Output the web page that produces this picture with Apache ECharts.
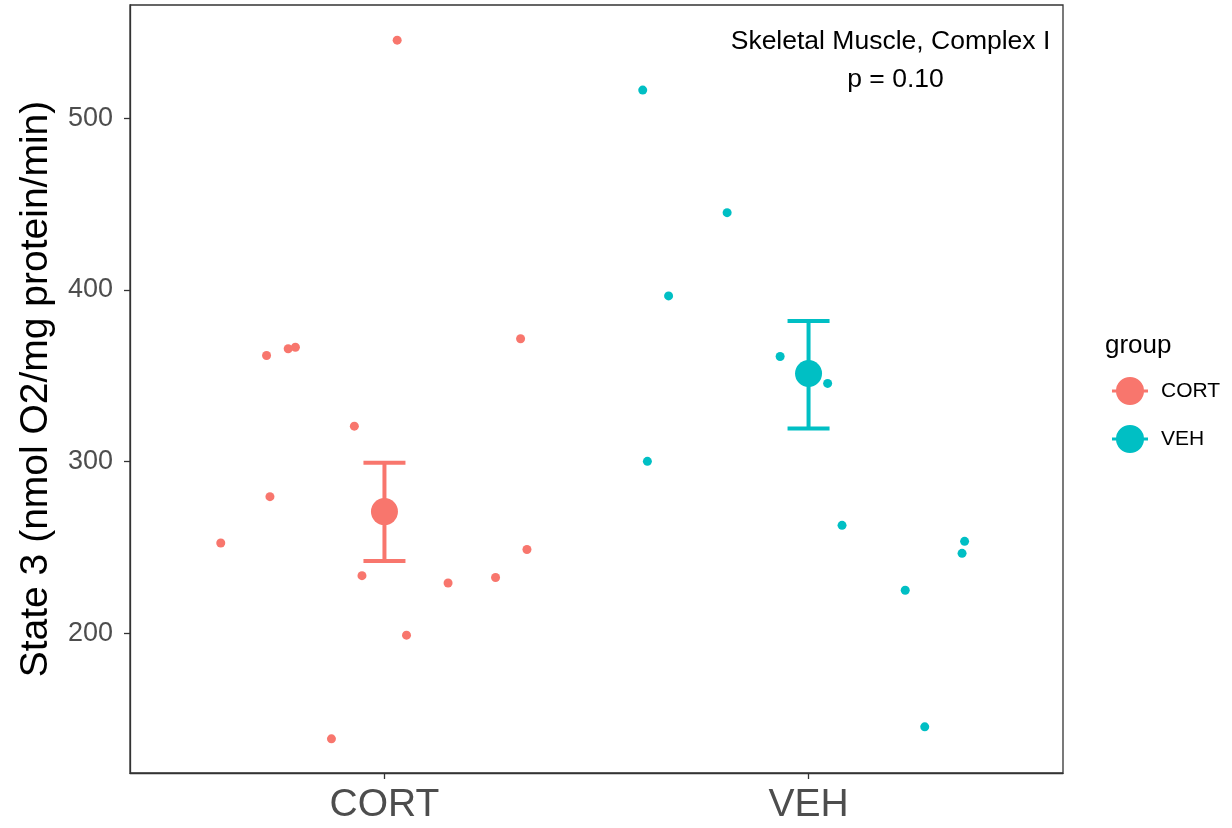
<!DOCTYPE html>
<html>
<head>
<meta charset="utf-8">
<script src="https://cdn.jsdelivr.net/npm/echarts@6/dist/echarts.min.js"></script>
<style>html,body{margin:0;padding:0;background:#fff}#c{width:1232px;height:828px}</style>
</head>
<body>
<div id="c"></div>
<script>
// ---- data ----
const categories = ['CORT', 'VEH'];
const yTicks = [200, 300, 400, 500];
// jittered positions (category index 1 = CORT, 2 = VEH) and values
const cortX = [1.030, 0.722, 0.773, 0.790, 1.321, 0.929, 0.730, 0.614, 0.947, 1.150, 1.262, 1.336, 1.052, 0.875];
const cortY = [545.5, 361.8, 365.7, 366.6, 371.5, 320.6, 279.5, 252.5, 233.5, 229.2, 232.4, 248.7, 198.8, 138.4];
const vehX = [1.609, 1.808, 1.670, 1.933, 2.045, 1.620, 2.079, 2.368, 2.362, 2.228, 2.274];
const vehY = [516.4, 445.0, 396.5, 361.2, 345.5, 300.1, 262.8, 253.5, 246.5, 225.0, 145.4];
const meanY = [270.8, 351.3];
const lowerY = [242.0, 319.3];
const upperY = [299.3, 381.9];
const annotation = ['Skeletal Muscle, Complex I', 'p = 0.10'];
const yTitle = 'State 3 (nmol O2/mg protein/min)';
const legendTitle = 'group';

const colors = ['#F8766D', '#00BFC4'];
const FONT = 'Liberation Sans, Arial, sans-serif';

const chart = echarts.init(document.getElementById('c'), null, {renderer: 'canvas'});

function errRender(params, api) {
  const x = api.value(0);
  const lo = api.coord([x, api.value(1)]);
  const hi = api.coord([x, api.value(2)]);
  const hw = 21;
  const st = {stroke: api.visual('color'), lineWidth: 4};
  return {
    type: 'group',
    children: [
      {type: 'line', shape: {x1: lo[0], y1: lo[1], x2: hi[0], y2: hi[1]}, style: st},
      {type: 'line', shape: {x1: hi[0] - hw, y1: hi[1], x2: hi[0] + hw, y2: hi[1]}, style: st},
      {type: 'line', shape: {x1: lo[0] - hw, y1: lo[1], x2: lo[0] + hw, y2: lo[1]}, style: st}
    ]
  };
}

const legendIcon = 'path://M0,12.5h36v3h-36z M4,14a14,14 0 1,1 28,0a14,14 0 1,1 -28,0z';

const series = [];
const groupsX = [cortX, vehX];
const groupsY = [cortY, vehY];
categories.forEach((cat, i) => {
  series.push({
    name: cat, type: 'scatter', symbolSize: 9, z: 2,
    itemStyle: {color: colors[i], opacity: 1},
    data: groupsX[i].map((x, k) => [x, groupsY[i][k]]),
    emphasis: {disabled: true}
  });
});
categories.forEach((cat, i) => {
  series.push({
    name: cat, type: 'custom', z: 3,
    itemStyle: {color: colors[i]},
    renderItem: errRender,
    encode: {x: 0, y: [1, 2]},
    data: [[i + 1, lowerY[i], upperY[i]]]
  });
  series.push({
    name: cat, type: 'scatter', symbolSize: 27, z: 4,
    itemStyle: {color: colors[i], opacity: 1},
    data: [[i + 1, meanY[i]]],
    emphasis: {disabled: true}
  });
});

chart.setOption({
  animation: false,
  color: colors,
  grid: {left: 130, top: 5, right: 169, bottom: 55, show: true, borderColor: '#333', borderWidth: 1.3, backgroundColor: '#fff'},
  xAxis: {
    type: 'value', min: 0.4, max: 2.6,
    splitLine: {show: false},
    axisLine: {show: true, lineStyle: {color: '#333', width: 1.3}},
    axisTick: {show: true, length: 6, lineStyle: {color: '#333', width: 1.3}, customValues: [1, 2]},
    axisLabel: {
      customValues: [1, 2], margin: 13,
      formatter: v => categories[Math.round(v) - 1],
      color: '#4D4D4D', fontSize: 39, fontFamily: FONT
    }
  },
  yAxis: {
    type: 'value', min: 118.5, max: 566,
    name: yTitle, nameLocation: 'middle', nameRotate: 90, nameGap: 74,
    nameTextStyle: {color: '#000', fontSize: 39, fontFamily: FONT},
    splitLine: {show: false},
    axisLine: {show: true, lineStyle: {color: '#333', width: 1.3}},
    axisTick: {show: true, length: 6, lineStyle: {color: '#333', width: 1.3}, customValues: yTicks},
    axisLabel: {customValues: yTicks, margin: 17, color: '#4D4D4D', fontSize: 27, fontFamily: FONT}
  },
  legend: {
    orient: 'vertical', left: 1107, top: 372,
    itemWidth: 36, itemHeight: 28, itemGap: 20,
    selectedMode: false,
    data: categories.map(c => ({name: c, icon: legendIcon})),
    textStyle: {color: '#000', fontSize: 21, fontFamily: FONT, padding: [0, 0, 0, 8]}
  },
  graphic: [
    {type: 'text', left: 1105, top: 333, style: {text: legendTitle, fontSize: 26, fontFamily: FONT, fill: '#000'}},
    {type: 'text', x: 890.5, y: 41.7, style: {text: annotation[0], fontSize: 26.5, fontFamily: FONT, fill: '#000', align: 'center', verticalAlign: 'middle'}},
    {type: 'text', x: 895.5, y: 79.3, style: {text: annotation[1], fontSize: 26.5, fontFamily: FONT, fill: '#000', align: 'center', verticalAlign: 'middle'}}
  ],
  series: series
});
</script>
</body>
</html>
